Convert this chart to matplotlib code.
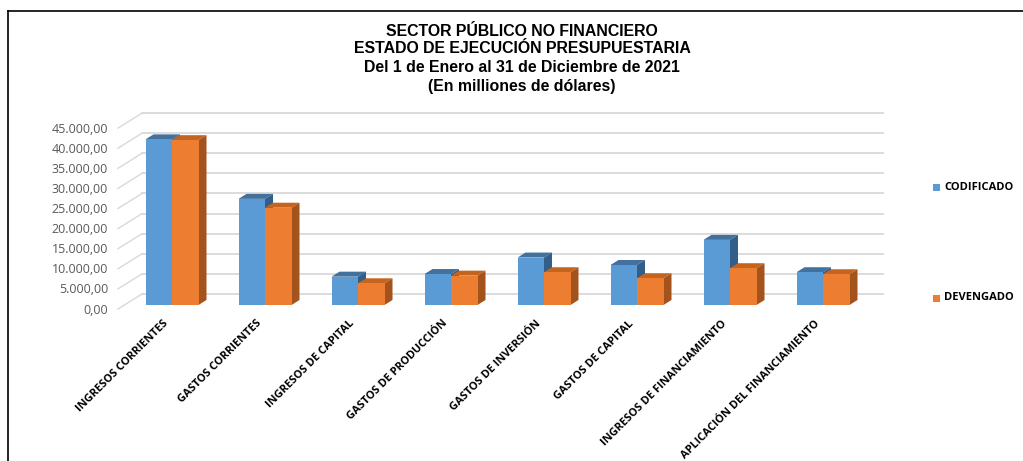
import matplotlib
matplotlib.use("Agg")
import matplotlib.pyplot as plt
from matplotlib.patches import Polygon, Rectangle
from matplotlib.lines import Line2D
import numpy as np

# ---------------- data ----------------
categories = ["INGRESOS CORRIENTES", "GASTOS CORRIENTES", "INGRESOS DE CAPITAL",
              "GASTOS DE PRODUCCIÓN", "GASTOS DE INVERSIÓN", "GASTOS DE CAPITAL",
              "INGRESOS DE FINANCIAMIENTO", "APLICACIÓN DEL FINANCIAMIENTO"]
codificado = [41200, 26400, 7050, 7700, 11800, 9950, 16200, 8150]
devengado = [41000, 24200, 5400, 7300, 8150, 6650, 9150, 7650]
series_names = ["CODIFICADO", "DEVENGADO"]
y_ticks = [0, 5000, 10000, 15000, 20000, 25000, 30000, 35000, 40000, 45000]
y_tick_labels = ["0,00", "5.000,00", "10.000,00", "15.000,00", "20.000,00",
                 "25.000,00", "30.000,00", "35.000,00", "40.000,00", "45.000,00"]
title_lines = ["SECTOR PÚBLICO NO FINANCIERO",
               "ESTADO DE EJECUCIÓN PRESUPUESTARIA",
               "Del 1 de Enero al 31 de Diciembre de 2021",
               "(En milliones de dólares)"]

# ---------------- style ----------------
W, H = 1023, 461
fig = plt.figure(figsize=(W / 100, H / 100), dpi=100)
fig.patch.set_facecolor("white")

# axes placed in pixel terms
ax_l, ax_r, ax_top, ax_bot = 100, 900, 105, 320
ax = fig.add_axes([ax_l / W, (H - ax_bot) / H, (ax_r - ax_l) / W, (ax_bot - ax_top) / H])
ax.axis("off")

px_per_cat = 93.0
cat0_px = 172.0
base_px = 305.0
px_per_val = 20.1 / 5000.0

ax.set_xlim((ax_l - cat0_px) / px_per_cat, (ax_r - cat0_px) / px_per_cat)
ax.set_ylim(-(ax_bot - base_px) / px_per_val, (base_px - ax_top) / px_per_val)

def px2x(p):
    return (p - cat0_px) / px_per_cat

def pxdy(p):
    return p / px_per_val

# back wall + side wall gridlines
grid_col = "#D9D9D9"
wall_left, wall_right = px2x(142), px2x(883)
front_left = px2x(118)
back_off = pxdy(11)
front_off = pxdy(-4)
for v in y_ticks:
    ax.plot([wall_left, wall_right], [v + back_off, v + back_off], color=grid_col, lw=1.3, zorder=1)
    ax.plot([front_left, wall_left], [v + front_off, v + back_off], color=grid_col, lw=1.0, zorder=1)

for v, lab in zip(y_ticks, y_tick_labels):
    ax.text(px2x(108), v + front_off - pxdy(1), lab, ha="right", va="center",
            fontsize=9, color="#595959", family="Open Sans")

# 3D-ish bars
bw = 26.5 / px_per_cat
ddx = 8 / px_per_cat
ddy = pxdy(5)
colors = {
    "CODIFICADO": ("#5B9BD5", "#41719C", "#335E8A"),
    "DEVENGADO": ("#ED7D31", "#C5641F", "#A4531C"),
}
x = np.arange(len(categories))
for k, (name, vals) in enumerate(zip(series_names, [codificado, devengado])):
    front, top, side = colors[name]
    lefts = x - bw + k * bw
    ax.bar(lefts, vals, width=bw, align="edge", color=front, edgecolor="none", zorder=3 + 2 * k)
    for x0, h in zip(lefts, vals):
        ax.add_patch(Polygon([(x0, h), (x0 + bw, h), (x0 + bw + ddx, h + ddy), (x0 + ddx, h + ddy)],
                             closed=True, facecolor=top, edgecolor="none", zorder=2 + 2 * k))
        ax.add_patch(Polygon([(x0 + bw, 0), (x0 + bw + ddx, ddy), (x0 + bw + ddx, h + ddy), (x0 + bw, h)],
                             closed=True, facecolor=side, edgecolor="none", zorder=2 + 2 * k))

# category labels
for i, c in enumerate(categories):
    ax.text(i + px2x(cat0_px - 5), pxdy(base_px - 322), c, rotation=45, rotation_mode="anchor",
            ha="right", va="center", fontsize=7.9, fontweight="bold", color="black",
            family="Open Sans")

# legend
leg_y = [188, 298]
for name, ly in zip(series_names, leg_y):
    fig.patches.append(Rectangle((933 / W, (H - ly - 3.5) / H), 7 / W, 7 / H,
                                 transform=fig.transFigure, facecolor=colors[name][0],
                                 edgecolor="none"))
    fig.text(944 / W, (H - ly) / H, name, ha="left", va="center", fontsize=8,
             fontweight="bold", color="black", family="Open Sans")

# title
title_base = [36, 53, 72, 90.5]
for t, ty in zip(title_lines, title_base):
    fig.text(522 / W, (H - ty) / H, t, ha="center", va="baseline", fontsize=11.4,
             fontweight="bold", color="black", family="Liberation Sans")

# frame lines (top and left)
fig.add_artist(Line2D([8 / W, 1], [(H - 11) / H, (H - 11) / H], transform=fig.transFigure,
                      color="black", lw=1.2))
fig.add_artist(Line2D([8 / W, 8 / W], [0, (H - 11) / H], transform=fig.transFigure,
                      color="black", lw=1.2))

fig.savefig("out.png", dpi=100, facecolor="white")
